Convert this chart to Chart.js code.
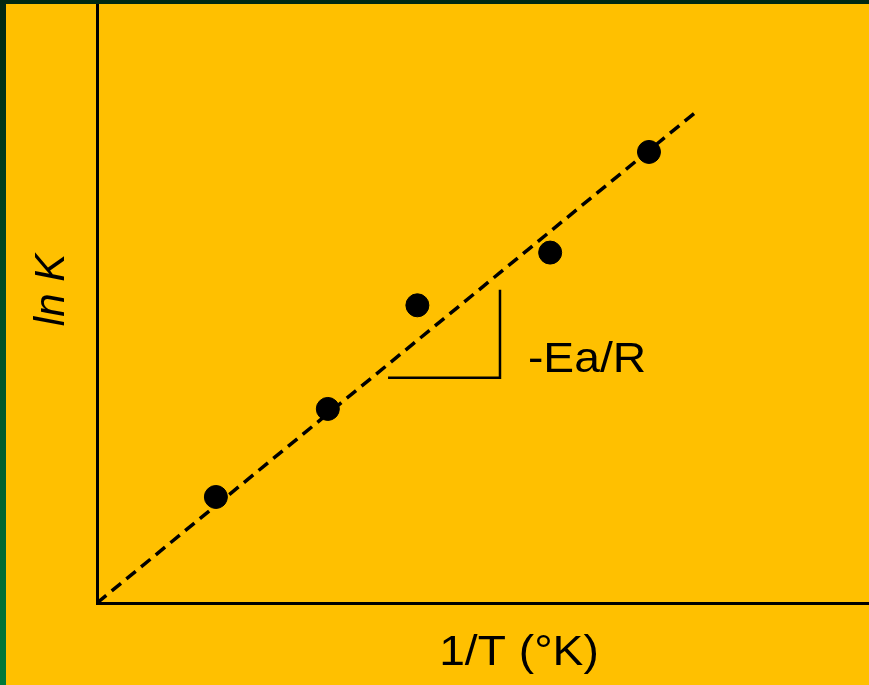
<!DOCTYPE html>
<html>
<head>
<meta charset="utf-8">
<script src="https://cdn.jsdelivr.net/npm/chart.js@4.4.1/dist/chart.umd.min.js"></script>
<style>
html,body{margin:0;padding:0;}
body{
width:869px;
height:685px;
overflow:hidden;
background:linear-gradient(to bottom,#002812 0%,#004a24 40%,#007a3a 100%);
position:relative;
}
#frame{
position:absolute;
left:6px;
top:4px;
width:863px;
height:681px;
background:#FFC000;
}
</style>
</head>
<body>
<div id="frame"><canvas id="arrheniusChart" width="863" height="681"></canvas></div>
<script>

// measured points (1/T, ln K)
const invT = [1.54, 2.99, 4.15, 5.87, 7.15];
const lnK = [1.77, 3.24, 4.97, 5.85, 7.53];

// straight fit through the origin
const fitX = [0, 7.77];
const fitY = [0, 8.21];

// slope triangle under the line
const triX = [3.77, 5.22, 5.22];
const triY = [3.76, 3.76, 5.23];

const xTitle = "1/T (°K)";
const yTitle = "ln K";
const slopeLabel = "-Ea/R";

const toPts = (xs,ys)=>xs.map((x,i)=>({x,y:ys[i]}));

const FONT = "42px 'Liberation Sans', Arial, sans-serif";

// text drawn a little wide, like the slide it comes from
function wideText(ctx, text, x, y, align){

ctx.save();

ctx.translate(x, y);

ctx.scale(1.1, 1);

ctx.textAlign=align;

ctx.fillText(text, 0, 0);

ctx.restore();

}

const labelPlugin = {

id:"labels",

afterDraw(chart){

const {ctx,chartArea,scales} = chart;

ctx.save();

ctx.fillStyle="#000";

ctx.font=FONT;

ctx.textBaseline="middle";

// slope label next to the triangle
wideText(ctx, slopeLabel, scales.x.getPixelForValue(5.22)+28, scales.y.getPixelForValue(4.05), "left");

// x axis title
wideText(ctx, xTitle, 513, chartArea.bottom+50, "center");

// y axis title, rotated and italic
ctx.translate(46, 286);

ctx.rotate(-Math.PI/2);

ctx.font="italic 42px 'Liberation Sans', Arial, sans-serif";

ctx.textAlign="center";

ctx.fillText(yTitle, 0, 0);

ctx.restore();

}

};

new Chart(document.getElementById("arrheniusChart"),{

type:"scatter",

data:{

datasets:[

{

label:"fit",

data:toPts(fitX,fitY),

showLine:true,

borderColor:"#000",

borderWidth:3.5,

borderDash:[12,7],

pointRadius:0,

order:2

},

{

label:"slope",

data:toPts(triX,triY),

showLine:true,

borderColor:"#000",

borderWidth:2.5,

pointRadius:0,

order:2

},

{

label:"data",

data:toPts(invT,lnK),

backgroundColor:"#000",

borderColor:"#000",

pointRadius:11.5,

pointHoverRadius:11.5,

order:1

}

]

},

options:{

responsive:false,

animation:false,

events:[],

layout:{padding:0,autoPadding:false},

plugins:{

legend:{display:false},

tooltip:{enabled:false}

},

scales:{

x:{

type:"linear",

min:0,

max:10,

grid:{display:false},

ticks:{display:false},

border:{color:"#000",width:3},

afterFit(scale){ scale.height=82; }

},

y:{

type:"linear",

min:0,

max:10,

grid:{display:false},

ticks:{display:false},

border:{color:"#000",width:3},

afterFit(scale){ scale.width=91; }

}

}

},

plugins:[labelPlugin]

});

</script>
</body>
</html>
